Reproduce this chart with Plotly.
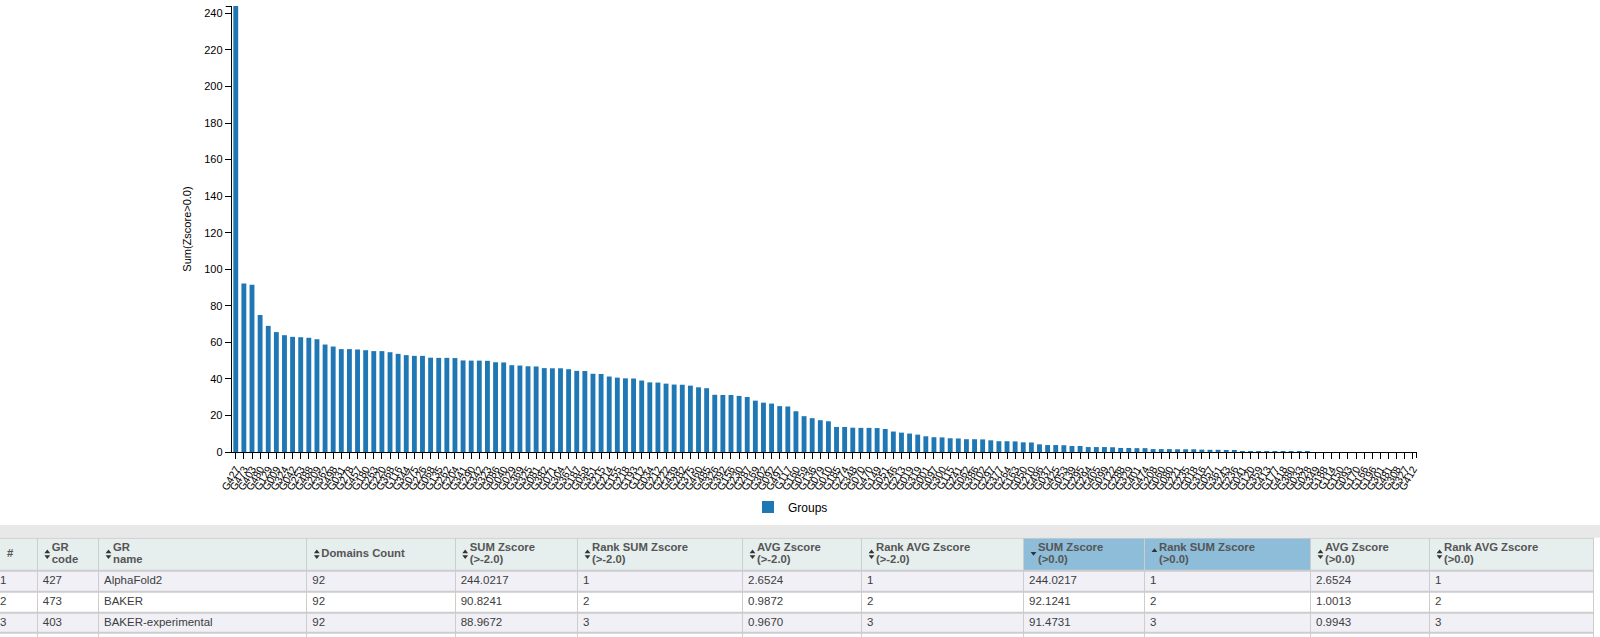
import plotly.graph_objects as go

# ============================================================
# Bar chart data: Sum(Zscore>0.0) per group
# ============================================================
groups = [
    "G427", "G473", "G403", "G480", "G129", "G009", "G324", "G042", "G253", "G488",
    "G209", "G362", "G498", "G031", "G278", "G457", "G180", "G263", "G220", "G368",
    "G116", "G344", "G075", "G226", "G068", "G135", "G262", "G204", "G341", "G290",
    "G342", "G323", "G086", "G040", "G029", "G369", "G325", "G081", "G382", "G071",
    "G304", "G367", "G187", "G058", "G351", "G215", "G214", "G155", "G218", "G193",
    "G112", "G034", "G212", "G222", "G439", "G282", "G375", "G460", "G485", "G326",
    "G392", "G156", "G230", "G287", "G169", "G302", "G092", "G497", "G117", "G160",
    "G059", "G136", "G079", "G010", "G185", "G274", "G348", "G070", "G470", "G149",
    "G051", "G246", "G213", "G019", "G319", "G001", "G097", "G300", "G115", "G241",
    "G062", "G386", "G102", "G297", "G377", "G264", "G163", "G050", "G210", "G496",
    "G037", "G425", "G053", "G139", "G295", "G294", "G405", "G099", "G122", "G288",
    "G329", "G401", "G474", "G208", "G060", "G080", "G221", "G235", "G018", "G316",
    "G057", "G361", "G243", "G236", "G041", "G120", "G359", "G413", "G177", "G418",
    "G380", "G033", "G028", "G349", "G188", "G114", "G150", "G093", "G170", "G166",
    "G196", "G301", "G481", "G308", "G327", "G412",
]

sum_z = [
    244.0217, 92.1241, 91.4731, 74.9, 69.0, 65.6, 63.9, 63.0, 62.8, 62.5,
    61.7, 58.8, 57.7, 56.3, 56.3, 56.1, 55.7, 55.2, 55.2, 54.6,
    53.7, 53.0, 52.6, 52.6, 51.6, 51.5, 51.5, 51.4, 50.1, 50.0,
    50.0, 49.9, 49.1, 49.0, 47.5, 47.3, 46.9, 46.8, 45.9, 45.8,
    45.8, 45.3, 44.4, 44.3, 42.8, 42.7, 41.3, 40.7, 40.3, 40.2,
    39.1, 38.1, 38.0, 37.4, 36.9, 36.8, 36.3, 35.4, 34.9, 31.3,
    31.2, 31.2, 30.7, 30.1, 28.1, 27.0, 26.5, 25.1, 24.9, 22.3,
    19.6, 18.5, 17.4, 16.8, 13.7, 13.7, 13.3, 13.2, 13.2, 13.1,
    12.6, 11.2, 10.6, 10.1, 9.5, 8.6, 8.1, 8.0, 7.5, 7.4,
    7.0, 7.0, 6.9, 6.4, 5.9, 5.9, 5.8, 5.3, 5.2, 4.2,
    3.8, 3.8, 3.7, 3.3, 3.3, 2.7, 2.7, 2.7, 2.6, 2.2,
    2.2, 2.1, 2.1, 1.6, 1.6, 1.6, 1.5, 1.5, 1.5, 1.3,
    1.2, 1.2, 1.1, 0.7, 0.4, 0.4, 0.4, 0.35, 0.3, 0.3,
    0.3, 0.1, 0.05, 0.0, 0.0, 0.0, 0.0, 0.0, 0.0, 0.0,
    0.0, 0.0, 0.0, 0.0, 0.0, 0.0,
]

assert len(groups) == len(sum_z) and len(set(groups)) == len(groups)

y_ticks = [0, 20, 40, 60, 80, 100, 120, 140, 160, 180, 200, 220, 240]

# ============================================================
# Table data (top rows of the ranking table)
# ============================================================
hdr_line1 = ["#", "GR", "GR", "Domains Count", "SUM Zscore", "Rank SUM Zscore",
             "AVG Zscore", "Rank AVG Zscore", "SUM Zscore", "Rank SUM Zscore",
             "AVG Zscore", "Rank AVG Zscore"]
hdr_line2 = ["", "code", "name", "", "(>-2.0)", "(>-2.0)",
             "(>-2.0)", "(>-2.0)", "(>0.0)", "(>0.0)", "(>0.0)", "(>0.0)"]
# sort state per column: None = no icon, "both", "desc", "asc"
sort_state = [None, "both", "both", "both", "both", "both", "both", "both",
              "desc", "asc", "both", "both"]

table_rows = [
    ["1", "427", "AlphaFold2", "92", "244.0217", "1", "2.6524", "1",
     "244.0217", "1", "2.6524", "1"],
    ["2", "473", "BAKER", "92", "90.8241", "2", "0.9872", "2",
     "92.1241", "2", "1.0013", "2"],
    ["3", "403", "BAKER-experimental", "92", "88.9672", "3", "0.9670", "3",
     "91.4731", "3", "0.9943", "3"],
    ["", "", "", "", "", "", "", "", "", "", "", ""],
]

# ============================================================
# Layout constants (pixels)
# ============================================================
W, H = 1600, 637
FONT = "Liberation Sans, Arial, sans-serif"

# bar chart plot area
PX0, PX1 = 231.7, 1417
PY0, PY1 = 6, 452

col_widths = [42.8, 61.2, 208.3, 148.4, 122.3, 165, 119, 162, 121, 166, 119, 164]
col_start = -5
row_heights = [33, 20.8, 20.8, 20.8, 20.8]   # header + body rows
table_top = 537.7
band_top = 525

col_edges = [col_start]
for w in col_widths:
    col_edges.append(col_edges[-1] + w)
row_edges = [table_top]
for h in row_heights:
    row_edges.append(row_edges[-1] + h)
row_mid = [(row_edges[i] + row_edges[i + 1]) / 2 for i in range(len(row_heights))]

# fill codes: 0 header, 1 sorted header, 2 odd row, 3 even row
fill_scale = [[0, "#e6eeee"], [1 / 3, "#8dbdd8"], [2 / 3, "#f0f0f6"], [1, "#ffffff"]]
hdr_codes = [1 if s in ("desc", "asc") else 0 for s in sort_state]
fill_z = [hdr_codes] + [[2 if i % 2 == 0 else 3] * len(hdr_codes) for i in range(len(table_rows))]

fig = go.Figure()

# ---- bar chart
fig.add_trace(go.Bar(
    x=groups, y=sum_z, name="Groups",
    marker=dict(color="#1f77b4", line=dict(width=0)),
    xaxis="x", yaxis="y", hoverinfo="x+y",
))

# ---- table cell fills
fig.add_trace(go.Heatmap(
    x=col_edges, y=row_edges, z=fill_z,
    zmin=0, zmax=3, colorscale=fill_scale, showscale=False,
    xgap=1, ygap=2, hoverinfo="skip",
    xaxis="x2", yaxis="y2", showlegend=False,
))

# ---- header texts
hx, hy, ht = [], [], []
for c, (l1, l2) in enumerate(zip(hdr_line1, hdr_line2)):
    x0 = col_edges[c] + (14 if c > 0 else 12)
    if l2:
        hx += [x0, x0]
        hy += [row_mid[0] - 5.8, row_mid[0] + 5.8]
        ht += [l1, l2]
    else:
        hx.append(x0)
        hy.append(row_mid[0])
        ht.append(l1)
fig.add_trace(go.Scatter(
    x=hx, y=hy, text=ht, mode="text", textposition="middle right",
    textfont=dict(family=FONT, size=11.3, color="#555555", weight="bold"),
    xaxis="x2", yaxis="y2", showlegend=False, hoverinfo="skip", cliponaxis=False,
))

# ---- sort icons
up_x, up_y, dn_x, dn_y = [], [], [], []
for c, s in enumerate(sort_state):
    xi = col_edges[c] + 9.5
    if s in ("both", "asc"):
        up_x.append(xi)
        up_y.append(row_mid[0] - (2.2 if s == "both" else 3.5))
    if s in ("both", "desc"):
        dn_x.append(xi)
        dn_y.append(row_mid[0] + (2.2 if s == "both" else -1.0))
for xs, ys, sym in [(up_x, up_y, "triangle-up"), (dn_x, dn_y, "triangle-down")]:
    fig.add_trace(go.Scatter(
        x=xs, y=ys, mode="markers",
        marker=dict(symbol=sym, size=5, color="#333333", line=dict(width=0)),
        xaxis="x2", yaxis="y2", showlegend=False, hoverinfo="skip",
    ))

# ---- body texts
bx, by, bt = [], [], []
for r, row in enumerate(table_rows):
    for c, val in enumerate(row):
        if val:
            bx.append(col_edges[c] + 5)
            by.append(row_mid[r + 1])
            bt.append(val)
fig.add_trace(go.Scatter(
    x=bx, y=by, text=bt, mode="text", textposition="middle right",
    textfont=dict(family=FONT, size=11.5, color="#3d3d3d"),
    xaxis="x2", yaxis="y2", showlegend=False, hoverinfo="skip", cliponaxis=False,
))

# d3-style outer ticks at the ends of both axis lines (paper coords)
outer = dict(type="line", xref="paper", yref="paper", line=dict(color="black", width=1))
axis_ends = [
    dict(outer, x0=(PX0 - 6) / W, x1=PX0 / W, y0=1 - (PY0 + 0.5) / H, y1=1 - (PY0 + 0.5) / H),
    dict(outer, x0=(PX1 - 0.5) / W, x1=(PX1 - 0.5) / W, y0=1 - PY1 / H, y1=1 - (PY1 + 6) / H),
]

fig.update_layout(
    width=W, height=H,
    margin=dict(l=0, r=0, t=0, b=0, autoexpand=False),
    paper_bgcolor="white", plot_bgcolor="white",
    font=dict(family=FONT, color="black"),
    bargap=0.4,
    showlegend=True,
    legend=dict(
        orientation="h", x=748 / W, y=1 - 507 / H,
        xanchor="left", yanchor="middle",
        font=dict(size=12, color="black"),
    ),
    xaxis=dict(
        domain=[PX0 / W, PX1 / W], anchor="y",
        type="category", automargin=False,
        range=[-0.5, len(groups) - 0.5],
        tickmode="array", tickvals=groups, ticktext=groups,
        tickangle=-60,
        tickfont=dict(size=10.5, color="black"),
        showline=True, linecolor="black", linewidth=1,
        ticks="outside", ticklen=6, tickcolor="black",
        showgrid=False, zeroline=False, fixedrange=True,
    ),
    yaxis=dict(
        domain=[1 - PY1 / H, 1 - PY0 / H], anchor="x",
        range=[0, 244.0217], automargin=False,
        tickmode="array", tickvals=y_ticks,
        tickfont=dict(size=11, color="black"),
        showline=True, linecolor="black", linewidth=1,
        ticks="outside", ticklen=6, tickcolor="black",
        showgrid=False, zeroline=False, fixedrange=True,
        title=dict(text="Sum(Zscore>0.0)", font=dict(size=11, color="black"), standoff=10),
    ),
    # pixel frame for the table strip (1 unit = 1 px)
    xaxis2=dict(
        domain=[0, 1], anchor="y2", range=[0, W],
        visible=False, fixedrange=True, automargin=False,
    ),
    yaxis2=dict(
        domain=[0, 1 - band_top / H], anchor="x2", range=[H, band_top],
        visible=False, fixedrange=True, automargin=False,
    ),
    shapes=[
        # light grey strip above the table
        dict(type="rect", xref="x2", yref="y2", x0=0, x1=W, y0=band_top, y1=table_top,
             fillcolor="#e8e8e8", line=dict(width=0), layer="below"),
        # table border colour showing through the cell gaps
        dict(type="rect", xref="x2", yref="y2", x0=0, x1=col_edges[-1],
             y0=table_top, y1=row_edges[-1],
             fillcolor="#cdcdcd", line=dict(width=0), layer="below"),
    ] + axis_ends,
)

fig.write_html(
    "out.html",
    config={"displayModeBar": False},
    post_script="document.body.style.margin='0px';document.body.style.overflow='hidden';",
)
